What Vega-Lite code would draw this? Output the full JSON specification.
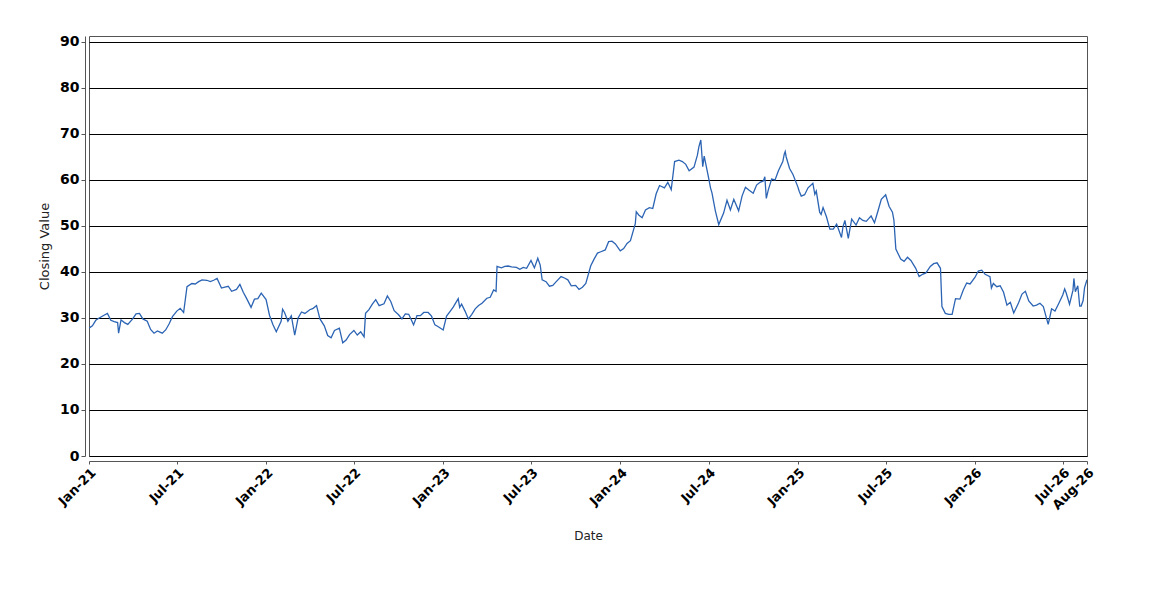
{
  "$schema": "https://vega.github.io/schema/vega-lite/v6.json",
  "width": 998,
  "height": 420,
  "autosize": "none",
  "padding": {"left": 89, "top": 36, "right": 63, "bottom": 144},
  "background": "white",
  "config": {
    "view": {"stroke": "#555555", "strokeWidth": 1, "fill": "white"},
    "axis": {"labelColor": "black", "titleColor": "#222222", "domainColor": "#555555", "tickColor": "#555555"}
  },
  "data": {
    "values": [
      {"date": "2021-01-01", "close": 27.8}, {"date": "2021-01-08", "close": 28.3}, {"date": "2021-01-15", "close": 29.5}, {"date": "2021-01-22", "close": 30.0},
      {"date": "2021-02-01", "close": 30.6}, {"date": "2021-02-08", "close": 31.0}, {"date": "2021-02-15", "close": 29.5}, {"date": "2021-02-22", "close": 29.2},
      {"date": "2021-03-01", "close": 29.0}, {"date": "2021-03-03", "close": 26.7}, {"date": "2021-03-08", "close": 29.6}, {"date": "2021-03-15", "close": 29.0}, {"date": "2021-03-22", "close": 28.6},
      {"date": "2021-04-01", "close": 29.8}, {"date": "2021-04-08", "close": 30.9}, {"date": "2021-04-15", "close": 31.0}, {"date": "2021-04-22", "close": 29.8},
      {"date": "2021-05-01", "close": 29.3}, {"date": "2021-05-08", "close": 27.5}, {"date": "2021-05-15", "close": 26.7}, {"date": "2021-05-22", "close": 27.2},
      {"date": "2021-06-01", "close": 26.7}, {"date": "2021-06-08", "close": 27.4}, {"date": "2021-06-15", "close": 28.7}, {"date": "2021-06-22", "close": 30.3},
      {"date": "2021-07-01", "close": 31.5}, {"date": "2021-07-08", "close": 32.1}, {"date": "2021-07-15", "close": 31.2}, {"date": "2021-07-22", "close": 36.8},
      {"date": "2021-08-01", "close": 37.5}, {"date": "2021-08-08", "close": 37.4}, {"date": "2021-08-15", "close": 37.9}, {"date": "2021-08-22", "close": 38.3},
      {"date": "2021-09-01", "close": 38.2}, {"date": "2021-09-08", "close": 37.9}, {"date": "2021-09-15", "close": 38.2}, {"date": "2021-09-22", "close": 38.6},
      {"date": "2021-10-01", "close": 36.5}, {"date": "2021-10-08", "close": 36.7}, {"date": "2021-10-15", "close": 36.9}, {"date": "2021-10-22", "close": 35.8},
      {"date": "2021-11-01", "close": 36.2}, {"date": "2021-11-08", "close": 37.3}, {"date": "2021-11-15", "close": 35.6}, {"date": "2021-11-22", "close": 34.2},
      {"date": "2021-12-01", "close": 32.3}, {"date": "2021-12-08", "close": 34.1}, {"date": "2021-12-15", "close": 34.2}, {"date": "2021-12-22", "close": 35.4},
      {"date": "2022-01-01", "close": 34.0}, {"date": "2022-01-08", "close": 30.6}, {"date": "2022-01-15", "close": 28.6}, {"date": "2022-01-22", "close": 27.0},
      {"date": "2022-02-01", "close": 29.3}, {"date": "2022-02-04", "close": 31.9}, {"date": "2022-02-08", "close": 31.2}, {"date": "2022-02-15", "close": 29.3}, {"date": "2022-02-22", "close": 30.5},
      {"date": "2022-03-01", "close": 26.3}, {"date": "2022-03-08", "close": 30.0}, {"date": "2022-03-15", "close": 31.3}, {"date": "2022-03-22", "close": 31.0},
      {"date": "2022-04-01", "close": 31.8}, {"date": "2022-04-08", "close": 32.1}, {"date": "2022-04-15", "close": 32.7}, {"date": "2022-04-22", "close": 29.8},
      {"date": "2022-05-01", "close": 28.3}, {"date": "2022-05-08", "close": 26.2}, {"date": "2022-05-15", "close": 25.7}, {"date": "2022-05-22", "close": 27.3},
      {"date": "2022-06-01", "close": 27.8}, {"date": "2022-06-08", "close": 24.6}, {"date": "2022-06-15", "close": 25.2}, {"date": "2022-06-22", "close": 26.4},
      {"date": "2022-07-01", "close": 27.3}, {"date": "2022-07-08", "close": 26.3}, {"date": "2022-07-15", "close": 27.0}, {"date": "2022-07-22", "close": 25.9}, {"date": "2022-07-25", "close": 31.0},
      {"date": "2022-08-01", "close": 31.8}, {"date": "2022-08-08", "close": 33.0}, {"date": "2022-08-15", "close": 34.0}, {"date": "2022-08-22", "close": 32.7},
      {"date": "2022-09-01", "close": 33.1}, {"date": "2022-09-08", "close": 34.8}, {"date": "2022-09-15", "close": 33.6}, {"date": "2022-09-22", "close": 31.6},
      {"date": "2022-10-01", "close": 30.7}, {"date": "2022-10-08", "close": 29.8}, {"date": "2022-10-15", "close": 30.9}, {"date": "2022-10-22", "close": 30.8},
      {"date": "2022-11-01", "close": 28.5}, {"date": "2022-11-08", "close": 30.5}, {"date": "2022-11-15", "close": 30.5}, {"date": "2022-11-22", "close": 31.2},
      {"date": "2022-12-01", "close": 31.2}, {"date": "2022-12-08", "close": 30.4}, {"date": "2022-12-15", "close": 28.5}, {"date": "2022-12-22", "close": 28.1},
      {"date": "2023-01-01", "close": 27.4}, {"date": "2023-01-08", "close": 30.4}, {"date": "2023-01-15", "close": 31.4}, {"date": "2023-01-22", "close": 32.4},
      {"date": "2023-02-01", "close": 34.2}, {"date": "2023-02-04", "close": 32.3}, {"date": "2023-02-08", "close": 33.0}, {"date": "2023-02-15", "close": 31.5}, {"date": "2023-02-22", "close": 29.8},
      {"date": "2023-03-01", "close": 30.8}, {"date": "2023-03-08", "close": 32.0}, {"date": "2023-03-15", "close": 32.7}, {"date": "2023-03-22", "close": 33.2},
      {"date": "2023-04-01", "close": 34.3}, {"date": "2023-04-08", "close": 34.5}, {"date": "2023-04-15", "close": 36.1}, {"date": "2023-04-20", "close": 35.8}, {"date": "2023-04-22", "close": 41.2},
      {"date": "2023-05-01", "close": 40.9}, {"date": "2023-05-08", "close": 41.2}, {"date": "2023-05-15", "close": 41.3}, {"date": "2023-05-22", "close": 41.1},
      {"date": "2023-06-01", "close": 41.0}, {"date": "2023-06-08", "close": 40.6}, {"date": "2023-06-15", "close": 41.0}, {"date": "2023-06-22", "close": 40.8},
      {"date": "2023-07-01", "close": 42.5}, {"date": "2023-07-08", "close": 40.9}, {"date": "2023-07-15", "close": 43.0}, {"date": "2023-07-20", "close": 41.5}, {"date": "2023-07-24", "close": 38.3},
      {"date": "2023-08-01", "close": 37.9}, {"date": "2023-08-08", "close": 36.9}, {"date": "2023-08-15", "close": 37.1}, {"date": "2023-08-22", "close": 37.9},
      {"date": "2023-09-01", "close": 39.0}, {"date": "2023-09-08", "close": 38.7}, {"date": "2023-09-15", "close": 38.3}, {"date": "2023-09-22", "close": 37.0},
      {"date": "2023-10-01", "close": 37.1}, {"date": "2023-10-08", "close": 36.2}, {"date": "2023-10-15", "close": 36.7}, {"date": "2023-10-22", "close": 37.5},
      {"date": "2023-11-01", "close": 41.3}, {"date": "2023-11-08", "close": 42.8}, {"date": "2023-11-15", "close": 44.1}, {"date": "2023-11-22", "close": 44.4},
      {"date": "2023-12-01", "close": 44.8}, {"date": "2023-12-08", "close": 46.6}, {"date": "2023-12-15", "close": 46.7}, {"date": "2023-12-22", "close": 46.1},
      {"date": "2024-01-01", "close": 44.6}, {"date": "2024-01-08", "close": 45.1}, {"date": "2024-01-15", "close": 46.2}, {"date": "2024-01-22", "close": 46.8},
      {"date": "2024-02-01", "close": 50.5}, {"date": "2024-02-03", "close": 53.1}, {"date": "2024-02-08", "close": 52.4}, {"date": "2024-02-15", "close": 51.8}, {"date": "2024-02-22", "close": 53.5},
      {"date": "2024-03-01", "close": 54.0}, {"date": "2024-03-08", "close": 53.8}, {"date": "2024-03-15", "close": 57.0}, {"date": "2024-03-22", "close": 58.8},
      {"date": "2024-04-01", "close": 58.3}, {"date": "2024-04-08", "close": 59.5}, {"date": "2024-04-15", "close": 57.9}, {"date": "2024-04-22", "close": 64.0},
      {"date": "2024-05-01", "close": 64.3}, {"date": "2024-05-08", "close": 64.0}, {"date": "2024-05-15", "close": 63.4}, {"date": "2024-05-22", "close": 62.0},
      {"date": "2024-06-01", "close": 62.8}, {"date": "2024-06-08", "close": 65.4}, {"date": "2024-06-11", "close": 67.2}, {"date": "2024-06-15", "close": 68.7}, {"date": "2024-06-19", "close": 62.9}, {"date": "2024-06-22", "close": 65.2},
      {"date": "2024-07-01", "close": 60.5}, {"date": "2024-07-05", "close": 58.3}, {"date": "2024-07-08", "close": 57.2}, {"date": "2024-07-15", "close": 53.3}, {"date": "2024-07-22", "close": 50.3},
      {"date": "2024-08-01", "close": 52.8}, {"date": "2024-08-08", "close": 55.6}, {"date": "2024-08-15", "close": 53.5}, {"date": "2024-08-22", "close": 55.8},
      {"date": "2024-09-01", "close": 53.3}, {"date": "2024-09-08", "close": 56.5}, {"date": "2024-09-15", "close": 58.4}, {"date": "2024-09-22", "close": 57.8},
      {"date": "2024-10-01", "close": 57.1}, {"date": "2024-10-08", "close": 58.9}, {"date": "2024-10-15", "close": 59.5}, {"date": "2024-10-22", "close": 59.8}, {"date": "2024-10-25", "close": 60.7}, {"date": "2024-10-28", "close": 56.0},
      {"date": "2024-11-01", "close": 57.8}, {"date": "2024-11-08", "close": 60.2}, {"date": "2024-11-15", "close": 60.0}, {"date": "2024-11-22", "close": 62.0},
      {"date": "2024-12-01", "close": 64.0}, {"date": "2024-12-04", "close": 65.6}, {"date": "2024-12-06", "close": 66.2}, {"date": "2024-12-08", "close": 65.0}, {"date": "2024-12-15", "close": 62.5}, {"date": "2024-12-22", "close": 61.2},
      {"date": "2025-01-01", "close": 58.5}, {"date": "2025-01-04", "close": 57.5}, {"date": "2025-01-08", "close": 56.5}, {"date": "2025-01-15", "close": 56.8}, {"date": "2025-01-22", "close": 58.3},
      {"date": "2025-02-01", "close": 59.3}, {"date": "2025-02-05", "close": 56.9}, {"date": "2025-02-08", "close": 57.6}, {"date": "2025-02-15", "close": 53.0}, {"date": "2025-02-18", "close": 52.5}, {"date": "2025-02-22", "close": 54.0},
      {"date": "2025-03-01", "close": 52.0}, {"date": "2025-03-08", "close": 49.3}, {"date": "2025-03-15", "close": 49.3}, {"date": "2025-03-22", "close": 50.4},
      {"date": "2025-04-01", "close": 47.5}, {"date": "2025-04-04", "close": 49.8}, {"date": "2025-04-08", "close": 51.2}, {"date": "2025-04-15", "close": 47.3}, {"date": "2025-04-22", "close": 51.5},
      {"date": "2025-05-01", "close": 50.2}, {"date": "2025-05-08", "close": 51.8}, {"date": "2025-05-15", "close": 51.2}, {"date": "2025-05-22", "close": 51.0},
      {"date": "2025-06-01", "close": 52.2}, {"date": "2025-06-08", "close": 50.7}, {"date": "2025-06-15", "close": 53.2}, {"date": "2025-06-22", "close": 55.8},
      {"date": "2025-07-01", "close": 56.8}, {"date": "2025-07-08", "close": 54.3}, {"date": "2025-07-15", "close": 53.0}, {"date": "2025-07-18", "close": 51.3}, {"date": "2025-07-22", "close": 45.0},
      {"date": "2025-08-01", "close": 42.8}, {"date": "2025-08-08", "close": 42.3}, {"date": "2025-08-15", "close": 43.2}, {"date": "2025-08-22", "close": 42.5},
      {"date": "2025-09-01", "close": 40.8}, {"date": "2025-09-08", "close": 39.0}, {"date": "2025-09-15", "close": 39.5}, {"date": "2025-09-22", "close": 39.8},
      {"date": "2025-10-01", "close": 41.2}, {"date": "2025-10-08", "close": 41.8}, {"date": "2025-10-15", "close": 42.0}, {"date": "2025-10-22", "close": 40.8}, {"date": "2025-10-25", "close": 32.5},
      {"date": "2025-11-01", "close": 31.0}, {"date": "2025-11-08", "close": 30.8}, {"date": "2025-11-15", "close": 30.8}, {"date": "2025-11-22", "close": 34.2},
      {"date": "2025-12-01", "close": 34.1}, {"date": "2025-12-08", "close": 36.1}, {"date": "2025-12-15", "close": 37.6}, {"date": "2025-12-22", "close": 37.4},
      {"date": "2026-01-01", "close": 38.8}, {"date": "2026-01-08", "close": 40.2}, {"date": "2026-01-15", "close": 40.4}, {"date": "2026-01-22", "close": 39.5},
      {"date": "2026-02-01", "close": 39.0}, {"date": "2026-02-04", "close": 36.5}, {"date": "2026-02-08", "close": 37.5}, {"date": "2026-02-15", "close": 36.8}, {"date": "2026-02-22", "close": 37.0},
      {"date": "2026-03-01", "close": 35.6}, {"date": "2026-03-08", "close": 32.8}, {"date": "2026-03-15", "close": 33.4}, {"date": "2026-03-22", "close": 31.1},
      {"date": "2026-04-01", "close": 33.3}, {"date": "2026-04-08", "close": 35.2}, {"date": "2026-04-15", "close": 35.8}, {"date": "2026-04-22", "close": 33.7},
      {"date": "2026-05-01", "close": 32.6}, {"date": "2026-05-08", "close": 32.8}, {"date": "2026-05-15", "close": 33.2}, {"date": "2026-05-22", "close": 32.5},
      {"date": "2026-06-01", "close": 28.6}, {"date": "2026-06-04", "close": 30.0}, {"date": "2026-06-08", "close": 32.0}, {"date": "2026-06-15", "close": 31.5}, {"date": "2026-06-22", "close": 33.0},
      {"date": "2026-07-01", "close": 35.0}, {"date": "2026-07-05", "close": 36.3}, {"date": "2026-07-08", "close": 35.5}, {"date": "2026-07-15", "close": 33.0}, {"date": "2026-07-22", "close": 36.0}, {"date": "2026-07-24", "close": 38.6}, {"date": "2026-07-27", "close": 35.7},
      {"date": "2026-08-01", "close": 37.0}, {"date": "2026-08-05", "close": 32.6}, {"date": "2026-08-08", "close": 32.6}, {"date": "2026-08-12", "close": 33.8}, {"date": "2026-08-15", "close": 36.6}, {"date": "2026-08-20", "close": 38.3}
    ]
  },
  "mark": {"type": "line", "color": "#2c64b4", "strokeWidth": 1.3, "clip": true},
  "encoding": {
    "x": {
      "field": "date",
      "type": "temporal",
      "title": "Date",
      "scale": {"type": "utc", "nice": false},
      "axis": {
        "values": [
          {"year": 2021, "month": 1, "date": 1, "utc": true},
          {"year": 2021, "month": 7, "date": 1, "utc": true},
          {"year": 2022, "month": 1, "date": 1, "utc": true},
          {"year": 2022, "month": 7, "date": 1, "utc": true},
          {"year": 2023, "month": 1, "date": 1, "utc": true},
          {"year": 2023, "month": 7, "date": 1, "utc": true},
          {"year": 2024, "month": 1, "date": 1, "utc": true},
          {"year": 2024, "month": 7, "date": 1, "utc": true},
          {"year": 2025, "month": 1, "date": 1, "utc": true},
          {"year": 2025, "month": 7, "date": 1, "utc": true},
          {"year": 2026, "month": 1, "date": 1, "utc": true},
          {"year": 2026, "month": 7, "date": 1, "utc": true},
          {"year": 2026, "month": 8, "date": 20, "utc": true}
        ],
        "format": "%b-%y",
        "labelAngle": -45,
        "labelAlign": "right",
        "labelBaseline": "top",
        "labelFont": "DejaVu Sans",
        "labelFontWeight": "bold",
        "labelFontSize": 13,
        "labelPadding": 2,
        "labelOverlap": false,
        "labelFlush": false,
        "grid": false,
        "offset": 5,
        "tickSize": 3,
        "titleFont": "DejaVu Sans",
        "titleFontSize": 12,
        "titleFontWeight": "normal",
        "titlePadding": 18
      }
    },
    "y": {
      "field": "close",
      "type": "quantitative",
      "title": "Closing Value",
      "scale": {"domain": [0, 91.3], "nice": false, "zero": true},
      "axis": {
        "values": [0, 10, 20, 30, 40, 50, 60, 70, 80, 90],
        "grid": true,
        "gridColor": "black",
        "gridOpacity": 1,
        "gridWidth": 1,
        "offset": 4,
        "tickSize": 4,
        "labelFont": "DejaVu Sans",
        "labelFontWeight": "bold",
        "labelFontSize": 14,
        "labelPadding": 2,
        "titleFont": "DejaVu Sans",
        "titleFontSize": 13,
        "titleFontWeight": "normal",
        "titlePadding": 8
      }
    }
  }
}
